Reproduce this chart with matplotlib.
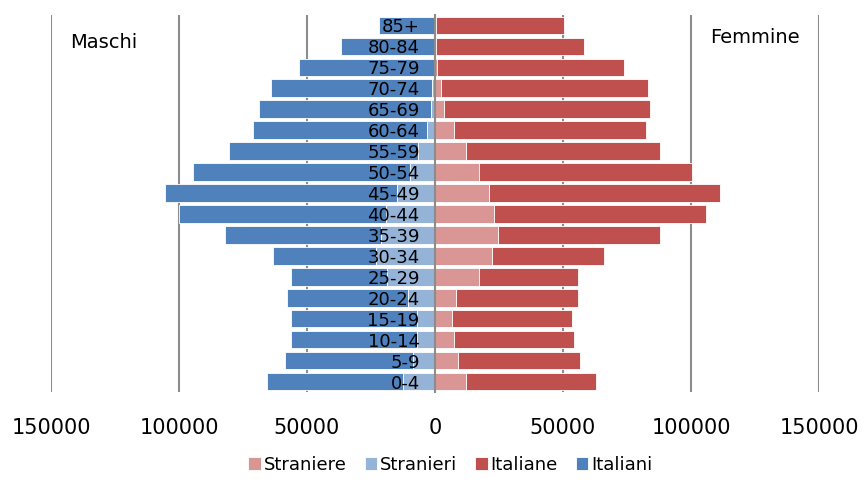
import matplotlib.pyplot as plt
import numpy as np

# Age classes, bottom to top
classi = ["0-4", "5-9", "10-14", "15-19", "20-24", "25-29", "30-34", "35-39", "40-44",
          "45-49", "50-54", "55-59", "60-64", "65-69", "70-74", "75-79", "80-84", "85+"]

# Residents by age class
stranieri = [12400, 8600, 7200, 7200, 10500, 18900, 23000, 21000, 19000,
             15000, 9800, 6500, 3300, 1700, 1000, 500, 300, 200]
italiani = [53300, 50100, 49200, 49200, 47400, 37500, 40400, 61200, 80900,
            90600, 84800, 74100, 67900, 67200, 63200, 52700, 36500, 21800]
straniere = [12200, 9100, 7500, 6800, 8300, 17000, 22400, 24700, 23000,
             21000, 17000, 12200, 7500, 3700, 2200, 800, 500, 400]
italiane = [50700, 47700, 46900, 46800, 47600, 38900, 43600, 63200, 82900,
            90300, 83300, 75700, 75000, 80300, 81100, 73000, 57800, 50000]

xticks = [-150000, -100000, -50000, 0, 50000, 100000, 150000]

c_italiani = "#4F81BD"
c_stranieri = "#95B3D7"
c_italiane = "#C0504D"
c_straniere = "#D99694"

plt.rcParams["font.family"] = ["DejaVu Sans"]

fig = plt.figure(figsize=(8.66, 4.88), dpi=100)
ax = fig.add_axes([0.0589, 0.1967, 0.8868, 0.7726])

y = np.arange(len(classi))
h = 0.84
m_str = -np.array(stranieri)
m_ita = -np.array(italiani)
f_str = np.array(straniere)
f_ita = np.array(italiane)

kw = dict(height=h, edgecolor="white", linewidth=0.6, zorder=2)
b1 = ax.barh(y, f_str, color=c_straniere, **kw)
b2 = ax.barh(y, m_str, color=c_stranieri, **kw)
b3 = ax.barh(y, f_ita, left=f_str, color=c_italiane, **kw)
b4 = ax.barh(y, m_ita, left=m_str, color=c_italiani, **kw)

# vertical gridlines behind the bars
ax.vlines([t for t in xticks if t != 0], -0.5, len(classi) - 0.5,
          color="#8c8c8c", linewidth=1.5, zorder=0.5)

ax.set_xlim(-150000, 150000)
ax.set_ylim(-0.5, len(classi) - 0.5)
ax.set_xticks(xticks)
ax.set_xticklabels([str(abs(t)) for t in xticks], fontsize=15)
ax.tick_params(axis="x", length=0, pad=19)

ax.spines["left"].set_position(("data", 0))
ax.spines["left"].set_color("#8c8c8c")
ax.spines["left"].set_linewidth(1.5)
ax.spines["left"].set_zorder(3)
for s in ["top", "right", "bottom"]:
    ax.spines[s].set_visible(False)
ax.set_yticks(y)
ax.set_yticklabels(classi, fontsize=13)
ax.tick_params(axis="y", length=0, pad=11)
for lab in ax.get_yticklabels():
    lab.set_zorder(5)
ax.yaxis.set_zorder(4)

ax.text(0.0247, 0.928, "Maschi", transform=ax.transAxes, fontsize=14, va="center")
ax.text(0.858, 0.939, "Femmine", transform=ax.transAxes, fontsize=14, va="center")

fig.legend([b1, b2, b3, b4], ["Straniere", "Stranieri", "Italiane", "Italiani"],
           loc="center", bbox_to_anchor=(0.52, 0.047), ncol=4, frameon=False,
           fontsize=13, handlelength=0.7, handleheight=0.7, handletextpad=0.15,
           columnspacing=1.0)

fig.savefig("out.png", dpi=100)
